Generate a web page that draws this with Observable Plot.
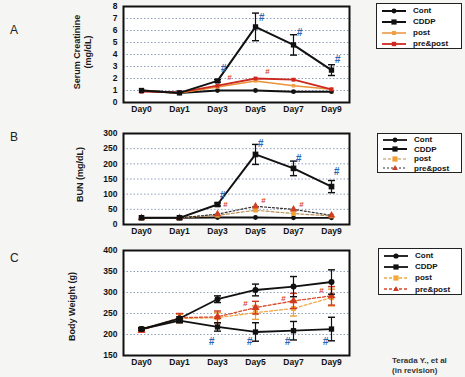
<!DOCTYPE html>
<html><head><meta charset="utf-8">
<script src="https://cdn.jsdelivr.net/npm/d3@7"></script>
<script src="https://cdn.jsdelivr.net/npm/@observablehq/plot@0.6"></script>
<style>
body{margin:0;background:#f5f5f3;}
#root{position:relative;width:465px;height:377px;overflow:hidden;font-family:"Liberation Sans",Arial,sans-serif;font-weight:bold;color:#111;}
.abs{position:absolute;}
.letter{font-size:12px;font-weight:normal;color:#222}
.ylab{position:absolute;font-size:9px;transform:rotate(-90deg);transform-origin:center center;white-space:nowrap;text-align:center;line-height:11px;color:#1a1a1a}
.legend{position:absolute;border:1.5px solid #222;background:#fff;box-sizing:border-box;font-size:8px;padding-top:1px}
.row{display:flex;align-items:center;}
.row svg{margin-left:4px;margin-right:6px;flex:none}
.caption{position:absolute;font-size:8px;line-height:10px;color:#333;font-weight:bold}
</style></head>
<body><div id="root"></div>
<script>
// ---------- data ----------
const days = ["Day0","Day1","Day3","Day5","Day7","Day9"];

// A: Serum creatinine (mg/dL)
const crCont    = [1.0, 0.8, 1.0, 1.0, 0.9, 0.9];
const crCDDP    = [1.0, 0.8, 1.8, 6.3, 4.8, 2.7];
const crCDDPerr = [0, 0, 0.1, 1.15, 0.85, 0.45];
const crPost    = [1.0, 0.8, 1.3, 1.8, 1.4, 1.1];
const crPrePost = [0.9, 0.85, 1.4, 2.0, 1.9, 1.1];
const crTicks   = [0,1,2,3,4,5,6,7,8];
const crSigDays = ["Day3","Day5","Day7","Day9"];
const crSigBlue = [2.8, 7.1, 5.8, 3.6];
const crSigRedDays = ["Day3","Day5"];
const crSigRed  = [2.1, 2.55];

// B: BUN (mg/dL)
const bunCont    = [22, 22, 23, 23, 22, 22];
const bunCDDP    = [22, 22, 66, 231, 185, 125];
const bunCDDPerr = [0, 0, 5, 33, 24, 20];
const bunPost    = [22, 22, 30, 47, 36, 28];
const bunPrePost = [22, 22, 34, 60, 50, 30];
const bunTicks   = [0,50,100,150,200,250,300];
const bunSigDays = ["Day3","Day5","Day7","Day9"];
const bunSigBlue = [96, 267, 218, 175];
const bunSigRedDays = ["Day3","Day5","Day7"];
const bunSigRed  = [66, 79, 66];

// C: Body weight (g)
const bwCont       = [213, 238, 284, 306, 314, 325];
const bwContErr    = [3, 4, 8, 14, 24, 29];
const bwCDDP       = [213, 233, 218, 206, 209, 213];
const bwCDDPerr    = [3, 5, 10, 22, 22, 28];
const bwPost       = [213, 238, 240, 252, 262, 288];
const bwPostErr    = [4, 10, 12, 16, 18, 20];
const bwPrePost    = [210, 240, 242, 264, 280, 292];
const bwPrePostErr = [4, 10, 14, 15, 18, 22];
const bwTicks      = [150,200,250,300,350,400];
const bwSigDays    = ["Day3","Day5","Day7","Day9"];
const bwSigBlue    = [183, 183, 183, 183];
const bwSigRedDays = ["Day5","Day7","Day9"];
const bwSigRed     = [275, 286, 304];

const seriesNames = ["Cont","CDDP","post","pre&post"];

// ---------- helpers ----------
function rows(vals, errs){
  return days.map((d,i)=>({day:d, v:vals[i], lo: errs? vals[i]-errs[i] : null, hi: errs? vals[i]+errs[i] : null}));
}
function sig(dd, vv){ return dd.map((d,i)=>({day:d, v:vv[i]})); }

function seriesMarks(data, st){
  const m = [Plot.line(data, {x:"day", y:"v", stroke:st.stroke, strokeWidth:st.sw, strokeDasharray:st.dash})];
  if (st.err) m.unshift(Plot.link(data.filter(d=>d.hi!=null && d.hi>d.lo), {x1:"day", x2:"day", y1:"lo", y2:"hi", stroke:st.errStroke||st.stroke, strokeWidth:1.2, markerStart:"tick", markerEnd:"tick"}));
  m.push(Plot.dot(data, {x:"day", y:"v", symbol:st.symbol, fill:st.fill, r:st.r, stroke:"none"}));
  return m;
}

function panel({height, mt, mb, domain, ticks, series, blue, red, blueDx, redDx}){
  const marks = [
    Plot.frame({fill:"#fff", stroke:"none"}),
    Plot.gridY(ticks.slice(1,-1), {stroke:"#6c7ea6", strokeOpacity:0.75, strokeDasharray:"1.5,2", strokeWidth:1})
  ];
  series.forEach(s=>marks.push(...seriesMarks(s.data, s.style)));
  marks.push(Plot.text(blue, {x:"day", y:"v", text:()=>"#", fill:"#2a64b4", fontSize:10, fontStyle:"italic", fontWeight:"bold", dx:blueDx}));
  marks.push(Plot.text(red, {x:"day", y:"v", text:()=>"#", fill:"#d8442a", fontSize:8, fontWeight:"bold", dx:redDx}));
  marks.push(Plot.frame({stroke:"#111", strokeWidth:2}));
  return Plot.plot({
    width:360, height, marginLeft:123, marginRight:11, marginTop:mt, marginBottom:mb,
    style:{background:"transparent", fontFamily:"'Liberation Sans', Arial, sans-serif", fontSize:"8.5px", fontWeight:"bold", color:"#111", overflow:"visible"},
    x:{type:"point", domain:days, padding:0.46, label:null, tickSize:0, tickPadding:3},
    y:{domain, ticks, label:null, tickSize:0, tickPadding:6},
    marks
  });
}

function symbolPath(sym, cx, cy, r){
  if (sym==="square") return `<rect x="${cx-r}" y="${cy-r}" width="${2*r}" height="${2*r}"/>`;
  if (sym==="triangle") return `<path d="M${cx},${cy-r*1.2}L${cx+r*1.1},${cy+r*0.8}L${cx-r*1.1},${cy+r*0.8}Z"/>`;
  return `<circle cx="${cx}" cy="${cy}" r="${r}"/>`;
}
function legend(root, {left, top, width, height, rowH, items}){
  const div = document.createElement("div");
  div.className="legend";
  Object.assign(div.style,{left:left+"px", top:top+"px", width:width+"px", height:height+"px"});
  items.forEach(it=>{
    const r = document.createElement("div"); r.className="row"; r.style.height=rowH+"px";
    r.innerHTML = `<svg width="26" height="8"><line x1="1" y1="4" x2="25" y2="4" stroke="${it.style.stroke}" stroke-width="${it.style.sw}" ${it.style.dash?`stroke-dasharray="${it.style.dash}"`:""}/><g fill="${it.style.fill}">${symbolPath(it.style.symbol,13,4,Math.min(it.style.r,2.6))}</g></svg><span>${it.label}</span>`;
    div.appendChild(r);
  });
  root.appendChild(div);
}
function place(root, el, left, top){
  const w = document.createElement("div"); w.className="abs"; w.style.left=left+"px"; w.style.top=top+"px";
  w.appendChild(el); root.appendChild(w);
}
function text(root, cls, html, css){
  const d=document.createElement("div"); d.className=cls; d.innerHTML=html; Object.assign(d.style, css); root.appendChild(d);
}

// ---------- styles ----------
const stA = [
  {stroke:"#111", sw:2, symbol:"circle", fill:"#111", r:2.4},
  {stroke:"#111", sw:2, symbol:"square", fill:"#111", r:3, err:true},
  {stroke:"#e8923a", sw:1.5, symbol:"square", fill:"#f0a040", r:2},
  {stroke:"#cc2a20", sw:1.8, symbol:"square", fill:"#cc2a20", r:2.2}
];
const stB = [
  {stroke:"#111", sw:1.8, symbol:"circle", fill:"#111", r:2.4},
  {stroke:"#111", sw:2, symbol:"square", fill:"#111", r:3.2, err:true},
  {stroke:"#b8905a", sw:1.2, dash:"3,2", symbol:"square", fill:"#f0a030", r:2.6},
  {stroke:"#333", sw:1.2, dash:"2,2", symbol:"triangle", fill:"#d04020", r:2.8}
];
const stC = [
  {stroke:"#111", sw:1.8, symbol:"circle", fill:"#111", r:3, err:true},
  {stroke:"#111", sw:1.8, symbol:"square", fill:"#111", r:3, err:true},
  {stroke:"#f0a848", sw:1.3, dash:"3,2", symbol:"square", fill:"#f5a838", r:2.8, err:true, errStroke:"#e8a040"},
  {stroke:"#d84a2a", sw:1.3, dash:"3,2", symbol:"triangle", fill:"#d03a20", r:3, err:true, errStroke:"#d03a20"}
];

// ---------- build ----------
const root = document.getElementById("root");

place(root, panel({height:117, mt:6, mb:15, domain:[0,8], ticks:crTicks,
  series:[
    {data:rows(crCont), style:stA[0]},
    {data:rows(crPost), style:stA[2]},
    {data:rows(crPrePost), style:stA[3]},
    {data:rows(crCDDP, crCDDPerr), style:stA[1]}
  ], blue:sig(crSigDays, crSigBlue), red:sig(crSigRedDays, crSigRed), blueDx:6, redDx:12}), 0, 0);

place(root, panel({height:117, mt:11, mb:15, domain:[0,300], ticks:bunTicks,
  series:[
    {data:rows(bunCont), style:stB[0]},
    {data:rows(bunPost), style:stB[2]},
    {data:rows(bunPrePost), style:stB[3]},
    {data:rows(bunCDDP, bunCDDPerr), style:stB[1]}
  ], blue:sig(bunSigDays, bunSigBlue), red:sig(bunSigRedDays, bunSigRed), blueDx:5, redDx:8}), 0, 122);

place(root, panel({height:130, mt:10, mb:15, domain:[150,400], ticks:bwTicks,
  series:[
    {data:rows(bwPost, bwPostErr), style:stC[2]},
    {data:rows(bwPrePost, bwPrePostErr), style:stC[3]},
    {data:rows(bwCont, bwContErr), style:stC[0]},
    {data:rows(bwCDDP, bwCDDPerr), style:stC[1]}
  ], blue:sig(bwSigDays, bwSigBlue), red:sig(bwSigRedDays, bwSigRed), blueDx:-6, redDx:-10}), 0, 240);

// panel letters
text(root,"abs letter","A",{left:"10px", top:"23px"});
text(root,"abs letter","B",{left:"10px", top:"130px"});
text(root,"abs letter","C",{left:"10px", top:"251px"});

// y labels (rotated)
text(root,"ylab","Serum Creatinine<br>(mg/dL)",{left:(82.5-50)+"px", top:(52-11)+"px", width:"100px", height:"22px"});
text(root,"ylab","BUN (mg/dL)",{left:(80-50)+"px", top:(174-5.5)+"px", width:"100px", height:"11px"});
text(root,"ylab","Body Weight (g)",{left:(72-50)+"px", top:(306-5.5)+"px", width:"100px", height:"11px"});

// legends
legend(root,{left:376, top:3, width:86, height:46, rowH:11, items:seriesNames.map((n,i)=>({label:n, style:stA[i]}))});
legend(root,{left:377, top:133, width:85, height:40, rowH:9.5, items:seriesNames.map((n,i)=>({label:n, style:stB[i]}))});
legend(root,{left:378, top:248, width:84, height:47, rowH:11.2, items:seriesNames.map((n,i)=>({label:n, style:stC[i]}))});

text(root,"caption","Terada Y., et al<br>(in revision)",{left:"392px", top:"356px"});
</script>
</body></html>
